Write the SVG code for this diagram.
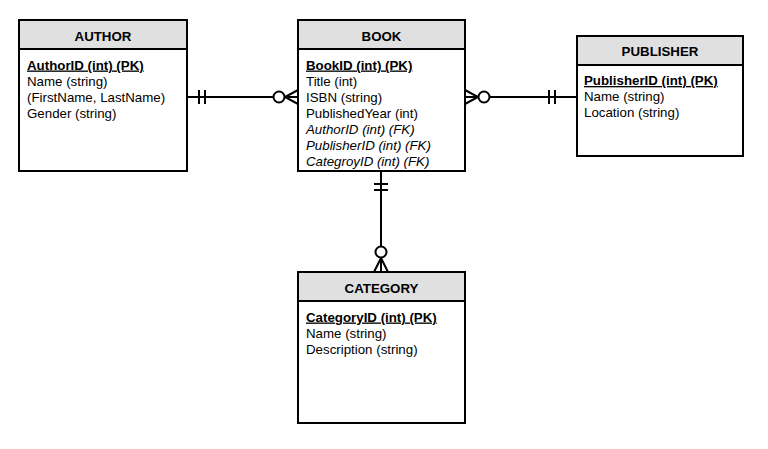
<svg xmlns="http://www.w3.org/2000/svg" width="768" height="449" viewBox="0 0 768 449">
<style>
.box{fill:#fff;stroke:#000;stroke-width:2}
.hdr{fill:#e0e0e0;stroke:#000;stroke-width:2}
.ht{font-family:"Liberation Sans",Arial,sans-serif;font-size:13.3px;font-weight:bold;text-anchor:middle;fill:#000}
.t{font-family:"Liberation Sans",Arial,sans-serif;font-size:13.3px;fill:#000}
.pk{font-weight:bold;text-decoration:underline}
.fk{font-style:italic}
.c{fill:none;stroke:#000;stroke-width:2}
.ring{fill:#fff;stroke:#000;stroke-width:2}
</style>
<rect width="768" height="449" fill="#fff"/>
<g id="connectors">
<line class="c" x1="187" y1="97" x2="298" y2="97"/>
<line class="c" x1="199" y1="90" x2="199" y2="104"/>
<line class="c" x1="205" y1="90" x2="205" y2="104"/>
<polyline class="c" points="298,90 285,97 298,104"/>
<circle class="ring" cx="279" cy="97" r="5.5"/>
<line class="c" x1="465" y1="97" x2="577" y2="97"/>
<polyline class="c" points="465,90 478,97 465,104"/>
<circle class="ring" cx="484" cy="97" r="5.5"/>
<line class="c" x1="549" y1="90" x2="549" y2="104"/>
<line class="c" x1="555" y1="90" x2="555" y2="104"/>
<line class="c" x1="381" y1="171" x2="381" y2="272"/>
<line class="c" x1="374" y1="184" x2="388" y2="184"/>
<line class="c" x1="374" y1="190" x2="388" y2="190"/>
<polyline class="c" points="374,272 381,258 388,272"/>
<circle class="ring" cx="381" cy="252" r="5.5"/>
</g>
<g id="author">
<rect class="box" x="19" y="20" width="168" height="151"/>
<rect class="hdr" x="19" y="20" width="168" height="29"/>
<text class="ht" x="103" y="41">AUTHOR</text>
<text class="t pk" x="27" y="69.5">AuthorID (int) (PK)</text>
<text class="t" x="27" y="85.5">Name (string)</text>
<text class="t" x="27" y="101.5">(FirstName, LastName)</text>
<text class="t" x="27" y="117.5">Gender (string)</text>
</g>
<g id="book">
<rect class="box" x="298" y="20" width="167" height="151"/>
<rect class="hdr" x="298" y="20" width="167" height="29"/>
<text class="ht" x="381.5" y="41">BOOK</text>
<text class="t pk" x="306" y="69.5">BookID (int) (PK)</text>
<text class="t" x="306" y="85.5">Title (int)</text>
<text class="t" x="306" y="101.5">ISBN (string)</text>
<text class="t" x="306" y="117.5">PublishedYear (int)</text>
<text class="t fk" x="306" y="133.5">AuthorID (int) (FK)</text>
<text class="t fk" x="306" y="149.5">PublisherID (int) (FK)</text>
<text class="t fk" x="306" y="165.5">CategroyID (int) (FK)</text>
</g>
<g id="publisher">
<rect class="box" x="577" y="36" width="166" height="120"/>
<rect class="hdr" x="577" y="36" width="166" height="29"/>
<text class="ht" x="660" y="56">PUBLISHER</text>
<text class="t pk" x="584" y="85">PublisherID (int) (PK)</text>
<text class="t" x="584" y="101">Name (string)</text>
<text class="t" x="584" y="117">Location (string)</text>
</g>
<g id="category">
<rect class="box" x="298" y="272" width="167" height="151"/>
<rect class="hdr" x="298" y="272" width="167" height="29"/>
<text class="ht" x="381.5" y="293">CATEGORY</text>
<text class="t pk" x="306" y="321.5">CategoryID (int) (PK)</text>
<text class="t" x="306" y="337.5">Name (string)</text>
<text class="t" x="306" y="353.5">Description (string)</text>
</g>
</svg>
